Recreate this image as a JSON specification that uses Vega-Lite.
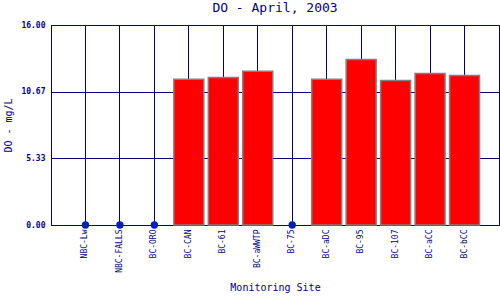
{
  "$schema": "https://vega.github.io/schema/vega-lite/v6.json",
  "autosize": "none",
  "width": 448,
  "height": 200,
  "padding": {"left": 51, "top": 25, "right": 1, "bottom": 75},
  "background": "white",
  "title": {"text": "DO - April, 2003", "font": "DejaVu Sans Mono", "fontSize": 13, "fontWeight": "normal", "color": "#000080", "offset": 6},
  "config": {
    "view": {"stroke": "#000080", "strokeWidth": 1},
    "axis": {"domainColor": "#000080", "gridColor": "#000080", "gridOpacity": 1, "gridWidth": 1, "ticks": false, "labelColor": "#000080", "titleColor": "#000080", "labelFont": "DejaVu Sans Mono", "titleFont": "DejaVu Sans Mono", "titleFontWeight": "normal", "titleFontSize": 10}
  },
  "data": {"values": [
    {"site": "NBC-Lw", "do": 0},
    {"site": "NBC-FALLS", "do": 0},
    {"site": "BC-ORO", "do": 0},
    {"site": "BC-CAN", "do": 11.66},
    {"site": "BC-61", "do": 11.8},
    {"site": "BC-aWWTP", "do": 12.3},
    {"site": "BC-75", "do": 0},
    {"site": "BC-aDC", "do": 11.66},
    {"site": "BC-95", "do": 13.25},
    {"site": "BC-107", "do": 11.57},
    {"site": "BC-aCC", "do": 12.13},
    {"site": "BC-bCC", "do": 11.97}
  ]},
  "encoding": {
    "x": {"field": "site", "type": "nominal",
      "sort": ["NBC-Lw", "NBC-FALLS", "BC-ORO", "BC-CAN", "BC-61", "BC-aWWTP", "BC-75", "BC-aDC", "BC-95", "BC-107", "BC-aCC", "BC-bCC"],
      "scale": {"paddingInner": 0.13, "paddingOuter": 0.565},
      "axis": {"title": "Monitoring Site", "labelAngle": -90, "labelFontSize": 8, "labelPadding": 4, "titlePadding": 10, "grid": true}},
    "y": {"field": "do", "type": "quantitative",
      "scale": {"domain": [0, 16], "nice": false},
      "axis": {"title": "DO - mg/L", "values": [0, 5.333333, 10.666667, 16], "format": ".2f", "labelFontSize": 8, "labelFontWeight": "bold", "labelPadding": 6, "titlePadding": 7, "grid": true}}
  },
  "layer": [
    {"transform": [{"filter": "datum.do > 0"}],
     "mark": {"type": "bar", "color": "#FF0000", "stroke": "#808080", "strokeWidth": 1.5}},
    {"transform": [{"filter": "datum.do == 0"}],
     "mark": {"type": "point", "filled": true, "color": "#0020C0", "size": 55, "opacity": 1}}
  ]
}
